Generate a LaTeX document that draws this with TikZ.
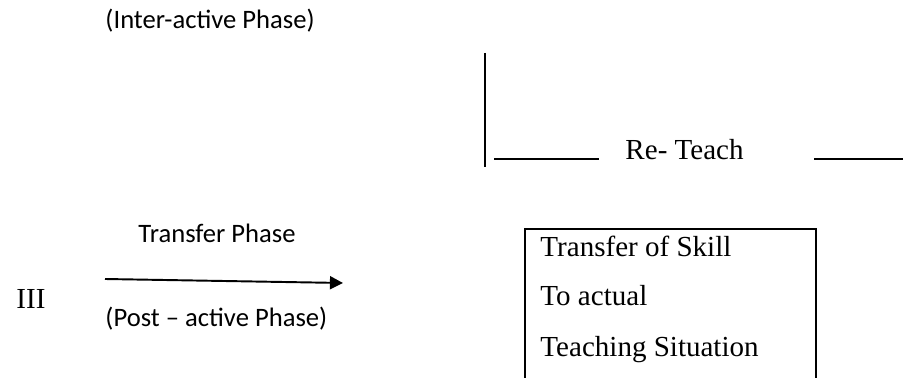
\documentclass[tikz,border=0pt]{standalone}
\usepackage{fontspec}
\setmainfont{Liberation Serif}
\newfontfamily\calibri[Ligatures=TeX]{Carlito}
\usetikzlibrary{arrows.meta, positioning, calc}
\tikzset{
    phaselabel/.style={
        anchor=base west,
        inner sep=0pt,
        font=\calibri\fontsize{11}{13}\selectfont
    },
    steplabel/.style={
        anchor=base west,
        inner sep=0pt,
        font=\fontsize{12}{14}\selectfont
    },
    flowline/.style={
        line width=0.8pt
    }
}

\begin{document}
\begin{tikzpicture}[x=0.4132pt, y=-0.4132pt]

\useasboundingbox (0,0) rectangle (903,378);

\tikzstyle{phasearrow} = [flowline, -{Triangle[length=5.4pt, width=5.4pt]}]

\coordinate (vtop) at (485,53);
\coordinate (vbot) at (485,167);
\coordinate (hl1) at (494,159);
\coordinate (hr1) at (599,159);
\coordinate (hl2) at (814,159);
\coordinate (hr2) at (903,159);
\coordinate (arrstart) at (105,279);
\coordinate (arrend) at (343,283);

\node[phaselabel] (interactive) at (105,29) {(Inter-active Phase)};

\draw[flowline] (vtop) -- (vbot);
\draw[flowline] (hl1) -- (hr1);
\node[steplabel] (reteach) at (625,160) {Re- Teach};
\draw[flowline] (hl2) -- (hr2);

\node[phaselabel] (transfer) at (138,243) {Transfer Phase};
\draw[phasearrow] (arrstart) -- (arrend);
\node[steplabel] (three) at (16,309) {III};
\node[phaselabel] (postactive) at (105,327) {(Post -- active Phase)};

% box runs past the lower edge of the page
\node[draw, line width=1pt, anchor=north west, minimum width=291*0.4132pt,
      minimum height=170*0.4132pt, inner sep=0pt] (skillbox) at (524,228) {};
\node[steplabel] (skill1) at (540,257) {Transfer of Skill};
\node[steplabel] (skill2) at (540,306) {To actual};
\node[steplabel] (skill3) at (540,357) {Teaching Situation};

\end{tikzpicture}
\end{document}
